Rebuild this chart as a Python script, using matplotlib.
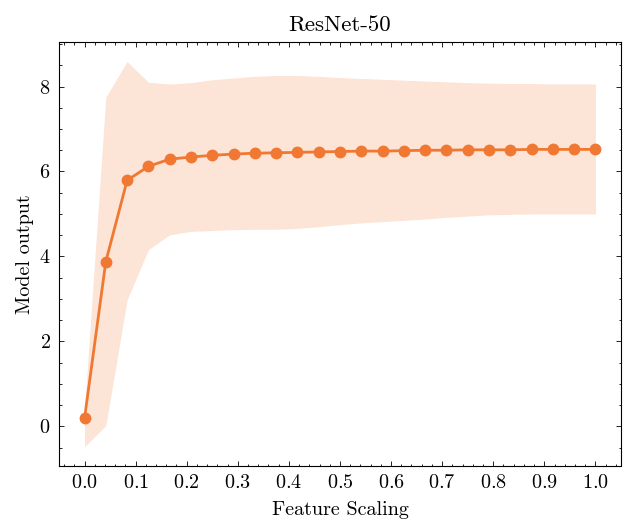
import numpy as np
import matplotlib
matplotlib.use('Agg')
from matplotlib import pyplot as plt

# feature scaling steps (25 points from 0 to 1)
scaling = [i / 24 for i in range(25)]

mean_output = [0.19, 3.88, 5.79, 6.12, 6.29, 6.34, 6.38, 6.41, 6.43, 6.44,
               6.45, 6.46, 6.47, 6.48, 6.48, 6.49, 6.50, 6.50, 6.51, 6.51,
               6.51, 6.52, 6.52, 6.52, 6.52]

upper = [0.40, 7.75, 8.59, 8.10, 8.06, 8.09, 8.16, 8.20, 8.24, 8.26,
         8.26, 8.24, 8.21, 8.19, 8.17, 8.15, 8.13, 8.11, 8.09, 8.08,
         8.07, 8.07, 8.06, 8.06, 8.06]

lower = [-0.48, 0.02, 2.98, 4.16, 4.51, 4.59, 4.61, 4.63, 4.64, 4.64,
         4.66, 4.70, 4.75, 4.79, 4.82, 4.85, 4.88, 4.92, 4.95, 4.98,
         4.99, 5.00, 5.00, 5.00, 5.00]

color = '#F07832'

plt.rcParams['font.family'] = 'serif'
plt.rcParams['font.serif'] = ['cmr10']
plt.rcParams['mathtext.fontset'] = 'cm'
plt.rcParams['axes.formatter.use_mathtext'] = True
plt.rcParams['font.size'] = 14.5

fig = plt.figure(figsize=(6.23, 5.21), dpi=100)
ax = fig.add_axes([0.0947, 0.1056, 0.902, 0.8134])

ax.fill_between(scaling, lower, upper, color=color, alpha=0.2, linewidth=0)
ax.plot(scaling, mean_output, color=color, linewidth=2, marker='o', markersize=7.5)

ax.set_xticks(np.arange(0, 1.01, 0.1))
ax.set_yticks([0, 2, 4, 6, 8])
ax.minorticks_on()
ax.tick_params(which='both', direction='in', top=True, right=True)
ax.tick_params(which='major', length=3.5, width=0.6, pad=6)
ax.tick_params(which='minor', length=1.8, width=0.6)
for s in ax.spines.values():
    s.set_linewidth(0.8)

ax.set_xlabel('Feature Scaling', labelpad=6)
ax.set_ylabel('Model output', labelpad=4)
ax.set_title('ResNet-50', fontsize=16.5, pad=8)

fig.savefig('out.png', dpi=100)
